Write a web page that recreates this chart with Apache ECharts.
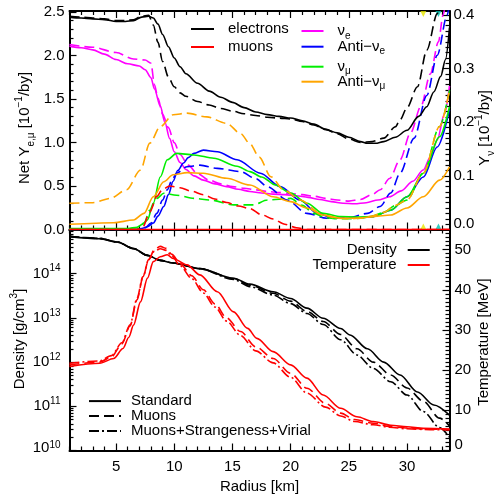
<!DOCTYPE html>
<html><head><meta charset="utf-8">
<script src="https://cdn.jsdelivr.net/npm/echarts@6.0.0/dist/echarts.min.js"></script>
<style>html,body{margin:0;padding:0;background:#fff}#c{width:496px;height:495px}</style>
</head><body><div id="c"></div>
<script>
// ---------- tick labels ----------
const xMajor = [5, 10, 15, 20, 25, 30];
const yeTicks = [0, 0.5, 1.0, 1.5, 2.0, 2.5];
const ynuTicks = [0, 0.1, 0.2, 0.3, 0.4];
const tempTicks = [0, 10, 20, 30, 40, 50];
const nuSphere = [31.4, 32.7];           // yellow, cyan markers

// ---------- top panel: net Y_e, Y_mu (left axis) ----------
const rEle   = [1,2,3,4,5,5.8,6.5,7.2,7.8,8.2,8.6,9.0,9.5,10,10.5,11,12,13,14,15,16,17,18,19,20,21,22,23,24,25,26,26.6,27.3,28,29,30,31,31.7,32.3,32.9,33.3,33.65];
const eleStd = [2.44,2.43,2.42,2.41,2.39,2.39,2.40,2.44,2.45,2.43,2.36,2.24,2.10,1.97,1.87,1.79,1.68,1.59,1.52,1.46,1.40,1.35,1.32,1.30,1.28,1.25,1.21,1.15,1.11,1.06,1.01,0.99,0.99,1.01,1.06,1.14,1.30,1.41,1.58,1.76,1.95,2.32];
const rEleM  = [1,2,3,4,5,5.8,6.5,7.2,7.8,8.2,8.6,9.0,9.5,10,10.5,11,12,13,14,15,16,17,18,19,20,21,22,23,24,25,26,27,28,29,29.4,30,30.9,31.7,32.6,33.0];
const eleMu  = [2.45,2.44,2.43,2.42,2.40,2.40,2.41,2.45,2.46,2.35,2.15,1.93,1.75,1.64,1.57,1.53,1.47,1.43,1.39,1.36,1.33,1.31,1.29,1.28,1.27,1.24,1.20,1.15,1.10,1.04,1.00,1.01,1.05,1.18,1.26,1.40,1.64,2.06,2.48,2.70];
const rMuStd = [1,33.65];
const muStd  = [0,0];
const rMuM   = [1,6.8,7.3,7.9,8.5,9.0,9.6,10.5,11.5,12.5,13.5,14.5,15.5,16.5,17.5,18.5,19.5,20.5,21.5,33.65];
const muMu   = [0,0,0.03,0.2,0.38,0.46,0.50,0.48,0.44,0.40,0.35,0.31,0.27,0.24,0.17,0.12,0.06,0.02,0,0];

// ---------- top panel: neutrino fractions (right axis) ----------
const rNue   = [1,2,3,4,5,6,7,7.5,8,8.3,8.8,9.2,9.6,10,10.5,11,11.7,12.5,13.5,14.5,15.5,16.5,17.5,18.5,19.5,20.5,21.5,22.5,23.5,24.5,25.5,26.5,27.5,28.5,29.5,30.5,31.4,32,32.6,33.2,33.65];
const nueStd = [0.342,0.339,0.335,0.327,0.317,0.309,0.305,0.298,0.283,0.262,0.230,0.200,0.170,0.145,0.125,0.112,0.100,0.092,0.085,0.080,0.075,0.071,0.068,0.066,0.065,0.063,0.060,0.056,0.052,0.049,0.048,0.050,0.055,0.061,0.072,0.090,0.111,0.135,0.167,0.215,0.268];
const rNueM  = [1,3,5,6.5,7.5,8,8.3,8.6,9.0,9.5,10,10.5,11.2,12,13,14,15,16,17,18,19,20,21,22,23,24,25,26,27,27.7,28.5,29.4,30.3,31.2,32,32.7,33.1,33.4];
const nueMu  = [0.345,0.340,0.330,0.318,0.316,0.310,0.270,0.245,0.215,0.190,0.162,0.140,0.120,0.104,0.092,0.085,0.080,0.077,0.074,0.071,0.069,0.067,0.065,0.062,0.058,0.055,0.053,0.056,0.065,0.074,0.095,0.130,0.180,0.230,0.290,0.350,0.400,0.440];
const rAnue   = [1,6.8,7.2,7.7,8.2,8.6,9.1,9.5,9.9,10.3,10.8,11.2,11.7,12.5,13.7,15.4,17.4,19.1,20.8,22.3,23.7,25.1,27.1,28.6,30.0,31.4,32.6,33.65];
const anueStd = [0,0,0.002,0.005,0.012,0.025,0.043,0.065,0.090,0.110,0.124,0.134,0.142,0.148,0.145,0.130,0.105,0.080,0.055,0.030,0.021,0.021,0.024,0.036,0.061,0.098,0.154,0.223];
const rAnueM  = [1,6.8,7.5,8.0,8.5,9.0,9.4,9.8,10.2,11.1,12.2,13.7,15.7,17.0,18.0,19.7,21.4,23.1,25.0,26.6,27.7,28.6,29.4,30.6,31.7,32.6,33.45,33.65];
const anueMu  = [0,0,0.003,0.012,0.030,0.055,0.074,0.092,0.105,0.117,0.120,0.114,0.108,0.095,0.080,0.055,0.030,0.021,0.022,0.030,0.043,0.068,0.105,0.170,0.250,0.325,0.400,0.420];
const rNumu   = [1,6.0,6.8,7.3,7.7,8.2,8.8,9.4,10.2,11.7,13.4,15.4,16.5,17.5,18.7,20.0,21.4,22.8,24.3,25.7,27.1,28.6,30.0,31.4,32.8,33.65];
const numuStd = [0.002,0.002,0.004,0.010,0.018,0.049,0.098,0.130,0.142,0.139,0.133,0.118,0.108,0.098,0.083,0.068,0.049,0.030,0.024,0.023,0.024,0.036,0.061,0.105,0.173,0.229];
const rNumuM  = [1,6.8,7.4,7.9,8.5,9.1,10.2,11.7,13.1,15.1,16.8,18.0,20.0,21.0,22.0,23.0,24.0,25.0,26.0,27.0,28.0,29.0,30.0,31.4,32.8,33.65];
const numuMu  = [0,0,0.012,0.036,0.058,0.0675,0.064,0.058,0.055,0.046,0.046,0.055,0.058,0.045,0.030,0.022,0.020,0.020,0.021,0.025,0.032,0.045,0.055,0.105,0.192,0.260];
const rAnumu   = [1,4.8,6.5,7.4,8.2,9.1,9.9,11.1,12.5,14.5,16.5,18.5,20.0,21.4,22.8,24.3,25.7,27.1,28.6,30.0,31.4,32.8,33.65];
const anumuStd = [0.0097,0.0127,0.0177,0.030,0.061,0.089,0.102,0.106,0.105,0.0955,0.083,0.061,0.052,0.040,0.027,0.021,0.021,0.024,0.027,0.040,0.061,0.092,0.117];
const rAnumuM  = [1,3,4.5,5.9,7.1,7.9,8.8,9.9,11.1,12.8,14.5,15.7,16.5,17.3,18.3,19.4,20.8,22.8,24,25,26,27,28,29,30,31.4,32.8,33.65];
const anumuMu  = [0.049,0.050,0.058,0.074,0.111,0.161,0.192,0.214,0.217,0.210,0.198,0.179,0.160,0.135,0.0985,0.074,0.055,0.027,0.021,0.020,0.021,0.025,0.032,0.045,0.055,0.105,0.192,0.260];

// ---------- bottom panel: density (g/cm^3) and temperature (MeV) ----------
const rDen   = [1,3.6,5.1,6.5,7.7,8.8,9.9,12.2,15.1,16.5,18.5,20.0,21.4,22.8,24.3,25.1,26.6,28.0,29.4,30.9,32.3,33.65];
const denStd = [6.9e14,6.2e14,5.2e14,3.7e14,2.6e14,2.0e14,1.75e14,1.3e14,7.9e13,5.8e13,3.9e13,2.75e13,1.66e13,9.8e12,5.75e12,4.1e12,2.0e12,1.0e12,5.1e11,2.1e11,1.07e11,6.3e10];
const rDenM  = [1,3.6,5.1,6.5,7.7,8.8,9.9,12.2,15.1,16.5,18.5,20.0,21.4,22.8,24.3,25.7,27.1,28.6,30.0,31.4,32.8,33.65];
const denMu  = [7.0e14,6.3e14,5.2e14,3.7e14,2.6e14,2.0e14,1.75e14,1.3e14,7.8e13,5.5e13,3.6e13,2.4e13,1.4e13,8.3e12,4.2e12,2.0e12,1.0e12,5.1e11,2.6e11,1.3e11,5.4e10,3.6e10];
const denMSV = [7.0e14,6.3e14,5.2e14,3.7e14,2.6e14,2.0e14,1.75e14,1.29e14,7.4e13,5.1e13,3.3e13,2.1e13,1.26e13,7.1e12,3.2e12,1.45e12,7.2e11,3.6e11,1.8e11,7.6e10,3.3e10,2.0e10];
const rT     = [1,3.6,4.8,5.6,6.1,6.5,7.1,7.7,8.2,8.8,9.4,9.9,11.1,12.2,13.7,15.1,16.3,17.1,18.5,20.0,21.4,22.8,24.3,25.7,27.1,28.6,30.0,31.4,33.65];
const tStd   = [20.9,21.7,22.9,25.4,28.2,31.2,37.0,42.9,47.0,48.2,48.7,47.8,46.2,43.7,39.5,34.5,30.4,27.9,24.6,21.3,18.0,13.8,10.5,8.4,7.2,6.3,5.9,5.5,5.35];
const rTM    = [1,3.6,4.6,5.5,6.2,6.8,7.3,7.8,8.3,8.8,9.3,9.8,10.5,11.5,12.5,13.5,14.5,15.7,17,18.5,20,21.4,23,24.3,25.5,27.1,28.5,30,32,33.65];
const tMu    = [21.3,22.0,23.3,26.5,31.0,37.5,43.0,47.5,50.0,50.8,50.3,48.8,46.5,43.5,40.0,36.5,33.0,29.6,25.8,22.9,19.2,15.5,11.7,9.3,7.7,6.8,6.0,5.6,5.3,5.2];
const tMSV   = [21.7,22.3,23.6,26.8,31.3,37.8,43.2,47.5,49.6,50.2,49.8,48.4,46.0,42.8,39.2,35.7,32.2,28.6,24.8,21.8,18.2,14.3,10.8,8.6,7.2,6.4,5.8,5.4,5.2,5.2];

// ---------- layout / style ----------
const FONT = "'Liberation Sans', Arial, Helvetica, sans-serif";
const XMIN = 1, XMAX = 33.65;
const DASH = [10, 5], DASHDOT = [10, 3, 2, 3];

const xMinor = []; for (let i = 1; i <= 33; i++) if (i % 5) xMinor.push(i);
const yeMinor = []; for (let i = 1; i <= 25; i++) if (i % 5) yeMinor.push(i / 10);
const ynuMinor = []; for (let i = 1; i <= 40; i++) if (i % 10) ynuMinor.push(i / 100);
const tempMinor = []; for (let i = 1; i <= 54; i++) if (i % 10) tempMinor.push(i);
const denMinor = []; for (let n = 10; n < 15; n++) for (let k = 2; k <= 9; k++) denMinor.push(n + Math.log10(k));

function ax(o) {
  const a = {
    type: o.type || 'value', gridIndex: o.grid, position: o.pos,
    min: o.min, max: o.max,
    axisLine: {show: o.line !== false, onZero: false, lineStyle: {color: '#000', width: 2}},
    axisTick: {show: true, inside: true, length: o.len, lineStyle: {color: '#000', width: 1.2}},
    axisLabel: {show: !!o.labels, color: '#000', fontFamily: FONT, fontSize: 15, margin: o.margin || 8},
    splitLine: {show: false}, minorTick: {show: false}, minorSplitLine: {show: false}
  };
  if (o.logBase) a.logBase = o.logBase;
  if (o.ticks) { a.axisTick.customValues = o.ticks; if (o.labels) a.axisLabel.customValues = o.ticks; }
  if (o.fmt) a.axisLabel.formatter = o.fmt;
  if (o.rich) a.axisLabel.rich = o.rich;
  if (o.showMax === false) a.axisLabel.showMaxLabel = false;
  return a;
}

const xAxes = [
  ax({grid: 0, pos: 'bottom', min: XMIN, max: XMAX, len: 7, ticks: xMajor}),
  ax({grid: 0, pos: 'bottom', min: XMIN, max: XMAX, len: 4, ticks: xMinor, line: false}),
  ax({grid: 0, pos: 'top', min: XMIN, max: XMAX, len: 7, ticks: xMajor}),
  ax({grid: 0, pos: 'top', min: XMIN, max: XMAX, len: 4, ticks: xMinor, line: false}),
  ax({grid: 1, pos: 'bottom', min: XMIN, max: XMAX, len: 7, ticks: xMajor, labels: true, margin: 9, fmt: v => String(Math.round(v))}),
  ax({grid: 1, pos: 'bottom', min: XMIN, max: XMAX, len: 4, ticks: xMinor, line: false}),
  ax({grid: 1, pos: 'top', min: XMIN, max: XMAX, len: 7, ticks: xMajor}),
  ax({grid: 1, pos: 'top', min: XMIN, max: XMAX, len: 4, ticks: xMinor, line: false})
];
// bottom-most labels are lifted a little above their tick, as in the original
const liftRich = {
  sup: {fontSize: 10, fontFamily: FONT, color: '#000', verticalAlign: 'top', lineHeight: 20},
  lo: {fontSize: 15, fontFamily: FONT, color: '#000', padding: [0, 0, 12, 0]},
  lo2: {fontSize: 15, fontFamily: FONT, color: '#000', padding: [0, 0, 6, 0]},
  losup: {fontSize: 10, fontFamily: FONT, color: '#000', verticalAlign: 'top', lineHeight: 20, padding: [0, 0, 6, 0]}
};
const logAxis = ax({type: 'log', logBase: 10, grid: 1, pos: 'left', min: 1e10, max: 1e15, len: 7, labels: true, margin: 9,
  fmt: v => { const e = Math.round(Math.log10(v)); return e === 10 ? '{lo2|10}{losup|' + e + '}' : '10{sup|' + e + '}'; },
  rich: liftRich, showMax: false});
const yAxes = [
  ax({grid: 0, pos: 'left', min: 0, max: 2.51, len: 7, ticks: yeTicks, labels: true, margin: 5, fmt: v => v.toFixed(1)}),
  ax({grid: 0, pos: 'left', min: 0, max: 2.51, len: 4, ticks: yeMinor, line: false}),
  ax({grid: 0, pos: 'right', min: 0, max: 0.4075, len: 7, ticks: ynuTicks, labels: true, margin: 4,
      fmt: v => v === 0 ? '{lo|0.0}' : v.toFixed(1), rich: liftRich}),
  ax({grid: 0, pos: 'right', min: 0, max: 0.4075, len: 4, ticks: ynuMinor, line: false}),
  logAxis,
  ax({grid: 1, pos: 'left', min: 10, max: 15, len: 4, ticks: denMinor, line: false}),
  ax({grid: 1, pos: 'right', min: 0, max: 55, len: 7, ticks: tempTicks, labels: true, margin: 5,
      fmt: v => v === 0 ? '{lo|0}' : String(Math.round(v)), rich: liftRich}),
  ax({grid: 1, pos: 'right', min: 0, max: 55, len: 4, ticks: tempMinor, line: false})
];

function pairs(xs, ys) { return xs.map((x, i) => [x, ys[i]]); }
function curve(name, xs, ys, color, type, xi, yi) {
  return {name, type: 'line', xAxisIndex: xi, yAxisIndex: yi, data: pairs(xs, ys),
    symbol: 'none', showSymbol: false, smooth: 0.3, smoothMonotone: 'x',
    lineStyle: {color, width: 1.6, type}, itemStyle: {color}, emphasis: {disabled: true}};
}
function dummy(name, type) {
  return {name, type: 'line', xAxisIndex: 4, yAxisIndex: 6, data: [], symbol: 'none',
    lineStyle: {color: '#000', width: 1.6, type}, itemStyle: {color: '#000'}};
}
const C = {blk: '#000000', red: '#ff0000', mag: '#ff00ff', blu: '#0000ff', grn: '#00ee00', org: '#ffa500'};

const series = [
  curve('nue', rNue, nueStd, C.mag, 'solid', 0, 2),
  curve('nue_m', rNueM, nueMu, C.mag, DASH, 0, 2),
  curve('anue', rAnue, anueStd, C.blu, 'solid', 0, 2),
  curve('anue_m', rAnueM, anueMu, C.blu, DASH, 0, 2),
  curve('numu', rNumu, numuStd, C.grn, 'solid', 0, 2),
  curve('numu_m', rNumuM, numuMu, C.grn, DASH, 0, 2),
  curve('anumu', rAnumu, anumuStd, C.org, 'solid', 0, 2),
  curve('anumu_m', rAnumuM, anumuMu, C.org, DASH, 0, 2),
  curve('muons', rMuStd, muStd, C.red, 'solid', 0, 0),
  curve('muons_m', rMuM, muMu, C.red, DASH, 0, 0),
  curve('electrons', rEle, eleStd, C.blk, 'solid', 0, 0),
  curve('electrons_m', rEleM, eleMu, C.blk, DASH, 0, 0),
  curve('Density', rDen, denStd, C.blk, 'solid', 4, 4),
  curve('Density_m', rDenM, denMu, C.blk, DASH, 4, 4),
  curve('Density_msv', rDenM, denMSV, C.blk, DASHDOT, 4, 4),
  curve('Temperature', rT, tStd, C.red, 'solid', 4, 6),
  curve('Temperature_m', rTM, tMu, C.red, DASH, 4, 6),
  curve('Temperature_msv', rTM, tMSV, C.red, DASHDOT, 4, 6),
  dummy('Standard', 'solid'), dummy('Muons', DASH), dummy('Muons+Strangeness+Virial', DASHDOT),
  {type: 'scatter', xAxisIndex: 0, yAxisIndex: 2, clip: false, symbol: 'triangle', symbolSize: 6, symbolOffset: [0, -3],
   data: [{value: [nuSphere[0], 0], itemStyle: {color: '#e6e600'}}, {value: [nuSphere[1], 0], itemStyle: {color: '#00c0b0'}}]},
  {type: 'scatter', xAxisIndex: 0, yAxisIndex: 2, clip: false, symbol: 'triangle', symbolSize: 6, symbolRotate: 180, symbolOffset: [0, 3],
   data: [{value: [nuSphere[0], 0.4075], itemStyle: {color: '#e6e600'}}, {value: [nuSphere[1], 0.4075], itemStyle: {color: '#00c0b0'}}]}
];

const txt = {color: '#000', fontFamily: FONT, fontSize: 15};
const nuNames = {nue: 'ν{sub|e}', anue: 'Anti\u2212ν{sub|e}', numu: 'ν{sub|μ}', anumu: 'Anti\u2212ν{sub|μ}'};
const subRich = {sub: {fontSize: 10, fontFamily: FONT, color: '#000', verticalAlign: 'bottom'}};
const legBase = {orient: 'vertical', padding: 0, selectedMode: false, itemHeight: 14, itemStyle: {opacity: 0}};
const legends = [
  Object.assign({}, legBase, {data: ['electrons', 'muons'], left: 190, top: 20, itemWidth: 23, itemGap: 0,
    textStyle: Object.assign({}, txt, {lineHeight: 18, padding: [0, 0, 0, 9]})}),
  Object.assign({}, legBase, {data: ['nue', 'anue'], left: 300.5, top: 21, itemWidth: 22, itemGap: -4.3,
    formatter: n => nuNames[n], textStyle: Object.assign({}, txt, {lineHeight: 20, padding: [0, 0, 0, 9], rich: subRich})}),
  Object.assign({}, legBase, {data: ['numu', 'anumu'], left: 300.5, top: 56.7, itemWidth: 22, itemGap: -5,
    formatter: n => nuNames[n], textStyle: Object.assign({}, txt, {lineHeight: 20, padding: [0, 0, 0, 9], rich: subRich})}),
  Object.assign({}, legBase, {data: ['Density', 'Temperature'], right: 65.3, top: 242.5, itemWidth: 22, itemGap: 0, align: 'right',
    textStyle: Object.assign({}, txt, {lineHeight: 14.7, padding: [0, 6, 0, 0]})}),
  Object.assign({}, legBase, {data: ['Standard', 'Muons', 'Muons+Strangeness+Virial'], left: 88, top: 393.6, itemWidth: 32, itemGap: 0,
    textStyle: Object.assign({}, txt, {lineHeight: 14.2, padding: [0, 0, 0, 5]})})
];

const titleRich = {
  sub: {fontSize: 10, fontFamily: FONT, fill: '#000', verticalAlign: 'bottom'},
  sup: {fontSize: 10, fontFamily: FONT, fill: '#000', verticalAlign: 'top'}
};
function title(text, x, y, rot) {
  return {type: 'text', x, y, rotation: rot, silent: true,
    style: {text, fontSize: 15, fontFamily: FONT, fill: '#000', align: 'center', verticalAlign: 'middle', lineHeight: 22, rich: titleRich}};
}

const option = {
  animation: false,
  backgroundColor: '#fff',
  grid: [
    {left: 69.5, right: 46.5, top: 11, height: 218.5, outerBoundsMode: 'none'},
    {left: 69.5, right: 46.5, top: 229.5, height: 221, outerBoundsMode: 'none'}
  ],
  xAxis: xAxes,
  yAxis: yAxes,
  legend: legends,
  series,
  graphic: [
    title('Net Y{sub|e,μ} [10{sup|\u22121}/by]', 25, 128, Math.PI / 2),
    title('Y{sub|ν} [10{sup|\u22121}/by]', 485, 128, Math.PI / 2),
    title('Density [g/cm{sup|3}]', 20, 339, Math.PI / 2),
    title('Temperature [MeV]', 484, 342, Math.PI / 2),
    title('Radius [km]', 259.5, 487, 0)
  ]
};
const chart = echarts.init(document.getElementById('c'), null, {renderer: 'canvas'});
chart.setOption(option);
</script></body></html>
